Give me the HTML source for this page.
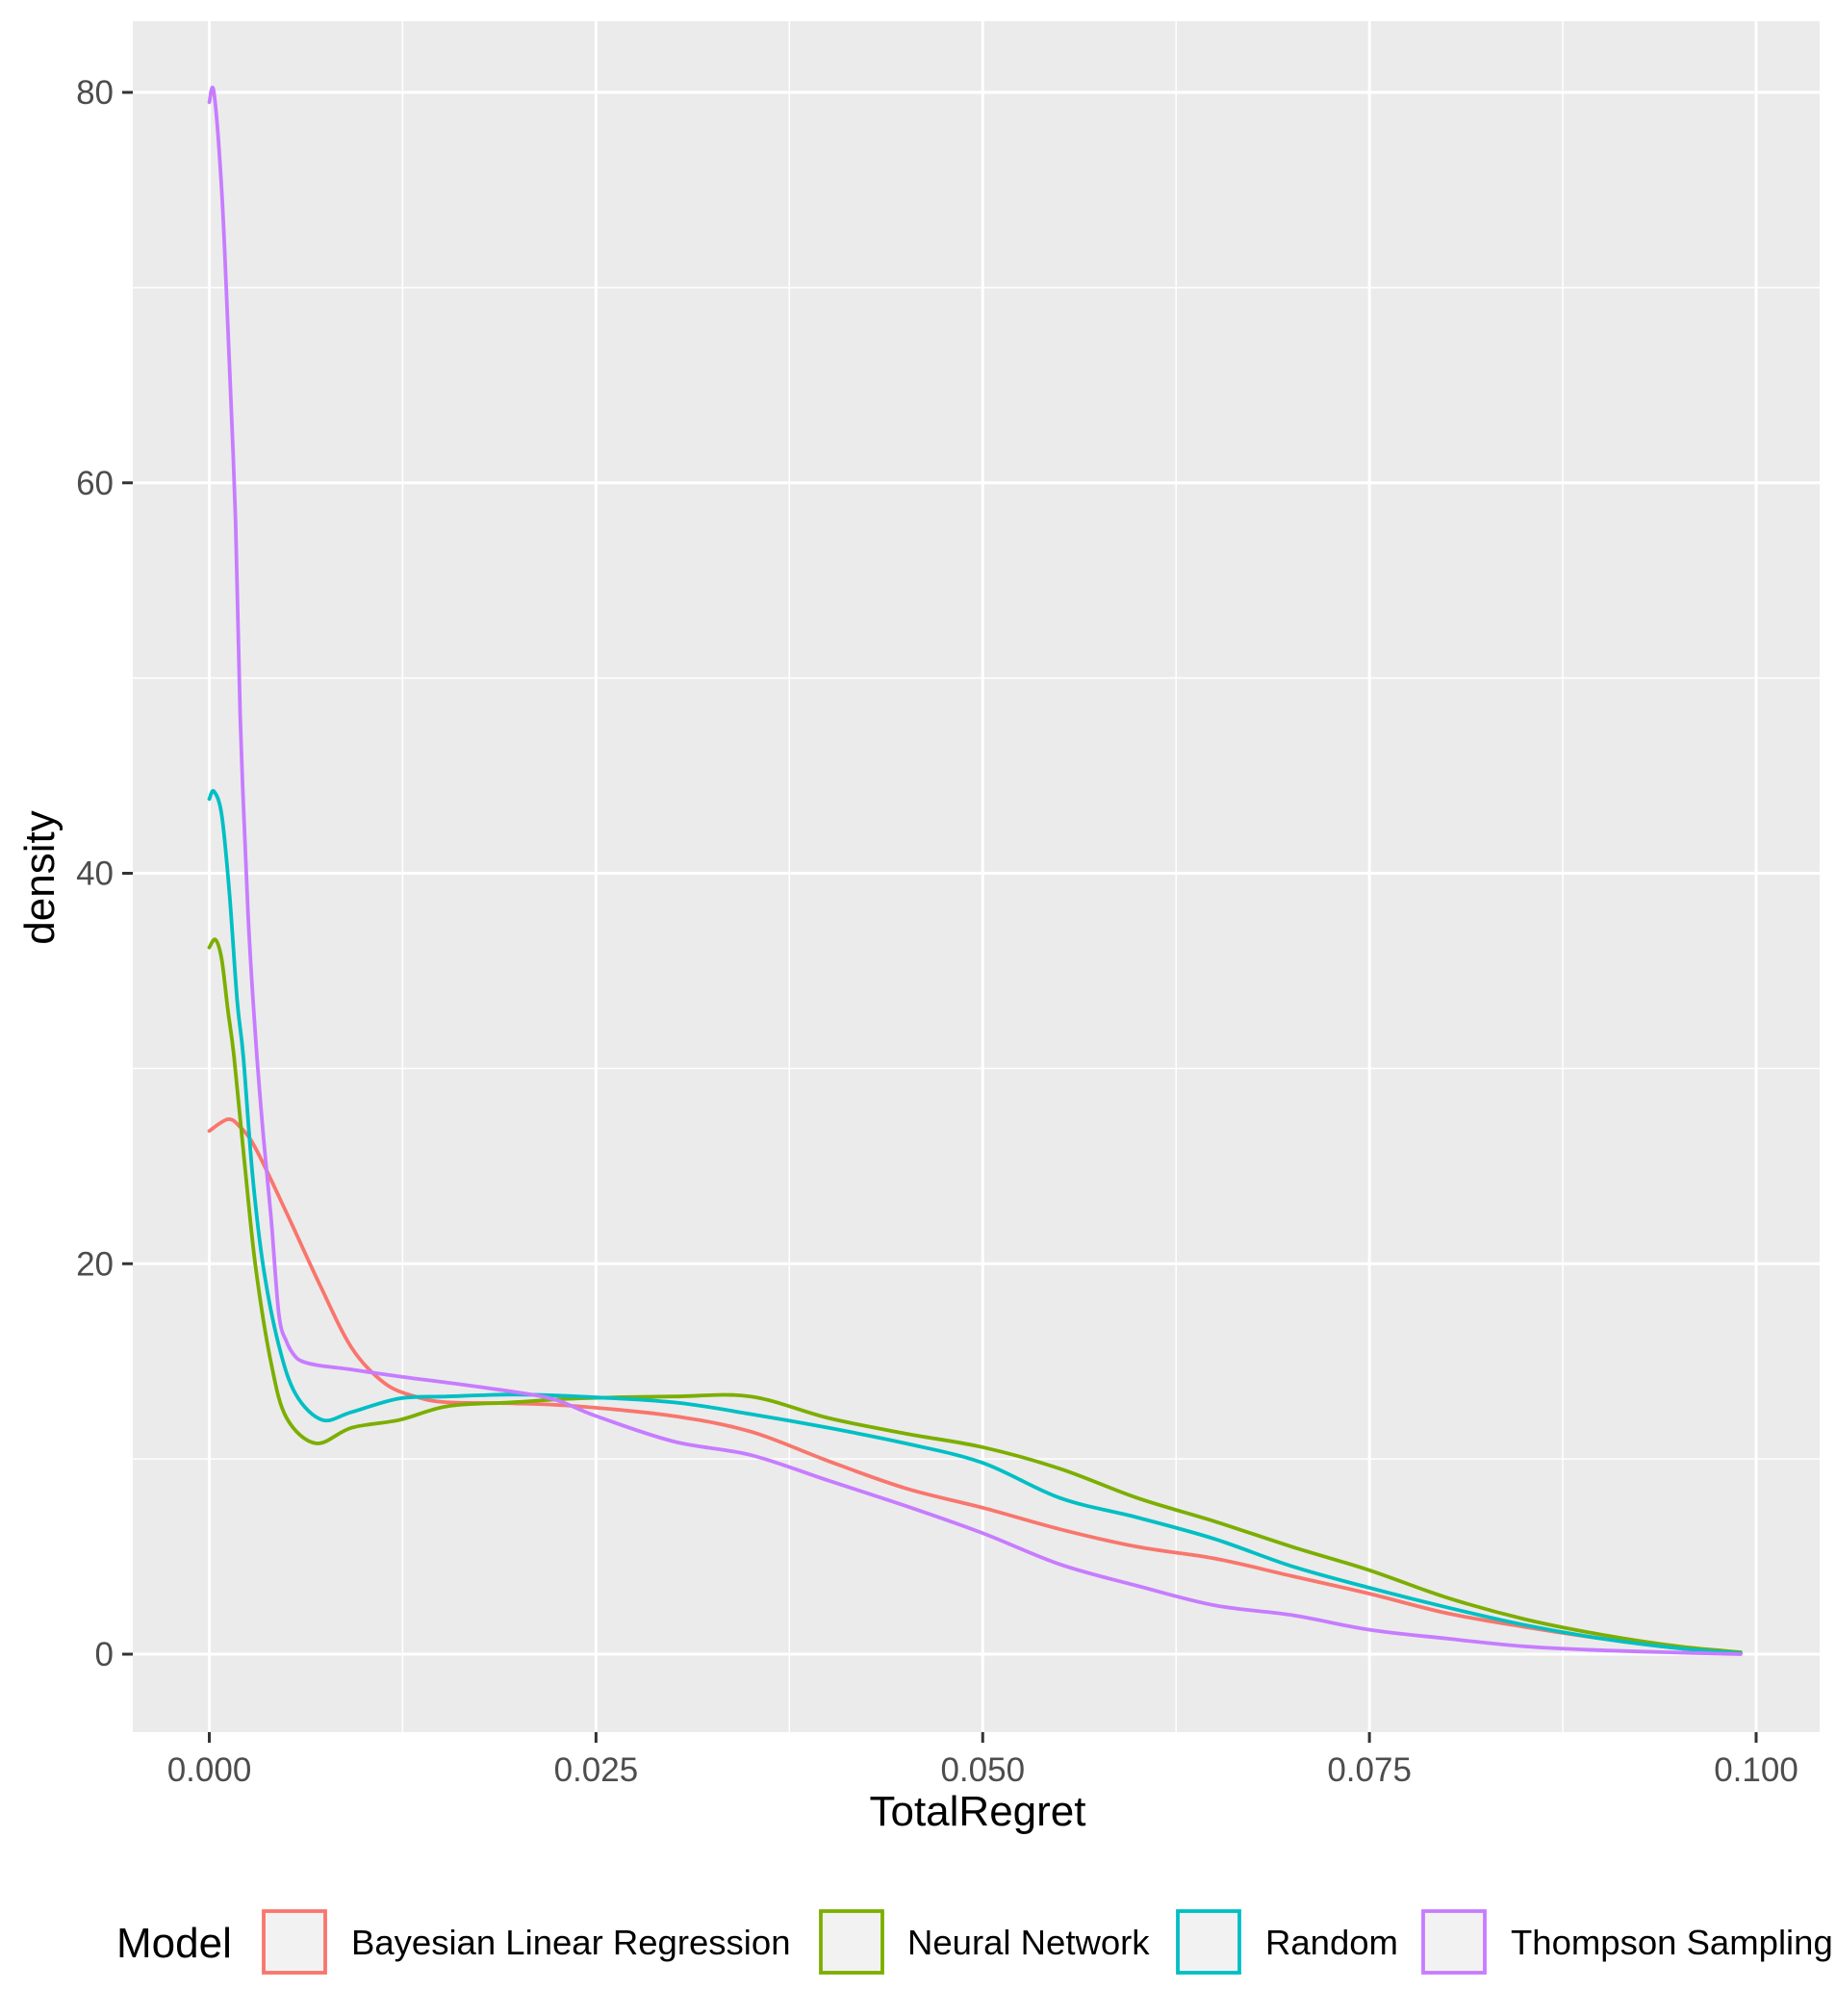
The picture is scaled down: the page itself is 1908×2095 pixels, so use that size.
<!DOCTYPE html>
<html><head><meta charset="utf-8"><style>
html,body{margin:0;padding:0;background:#fff;}
svg{display:block;font-family:"Liberation Sans",Arial,sans-serif;}
</style></head><body>
<svg id="chart" width="1908" height="2095" viewBox="0 0 1908 2095" xmlns="http://www.w3.org/2000/svg">
<rect x="0" y="0" width="1908" height="2095" fill="#fff"/>
<rect x="138" y="22" width="1753" height="1778" fill="#EBEBEB"/>
<g id="grid"></g>
<g id="series"></g>
<g id="axes"></g>
<text x="1016" y="1897" font-size="44" text-anchor="middle" fill="#000">TotalRegret</text>
<text x="0" y="0" font-size="44" text-anchor="middle" fill="#000" transform="translate(56,912) rotate(-90)">density</text>
<g id="legend">
<text x="121" y="2034" font-size="44" fill="#000">Model</text>
</g>
</svg>
<script>
const seriesNames = ["Bayesian Linear Regression","Neural Network","Random","Thompson Sampling"];
const seriesColors = ["#F8766D","#7CAE00","#00BFC4","#C77CFF"];
const bayesianX = [0,0.0012,0.002,0.003,0.005,0.0071,0.0092,0.0113,0.0133,0.0154,0.0196,0.0238,0.03,0.035,0.04,0.045,0.05,0.055,0.06,0.065,0.07,0.075,0.08,0.085,0.09,0.095,0.099];
const bayesianY = [26.8,27.4,27.0,25.9,22.6,19.0,15.7,13.9,13.2,12.9,12.85,12.7,12.2,11.4,9.9,8.5,7.5,6.4,5.5,4.9,4.0,3.1,2.1,1.4,0.8,0.3,0.05];
const neuralX = [0,0.0004,0.0008,0.0012,0.0016,0.0023,0.003,0.004,0.005,0.0069,0.0092,0.0123,0.0154,0.0196,0.0238,0.03,0.035,0.04,0.045,0.05,0.055,0.06,0.065,0.07,0.075,0.08,0.085,0.09,0.095,0.099];
const neuralY = [36.2,36.6,35.6,33.0,30.6,25.0,19.8,14.9,12.1,10.8,11.6,12.0,12.7,12.9,13.1,13.2,13.2,12.1,11.3,10.6,9.5,8.0,6.8,5.5,4.3,2.9,1.8,1.0,0.4,0.1];
const randomX = [0,0.0003,0.0008,0.0013,0.0018,0.0022,0.0028,0.0035,0.0045,0.0056,0.0073,0.0092,0.0123,0.0154,0.0196,0.0238,0.03,0.035,0.04,0.045,0.05,0.055,0.06,0.065,0.07,0.075,0.08,0.085,0.09,0.095,0.099];
const randomY = [43.8,44.2,43.0,39.0,33.5,30.6,24.5,19.8,15.8,13.3,12.0,12.4,13.1,13.2,13.3,13.2,12.9,12.3,11.6,10.8,9.8,8.0,7.0,5.9,4.5,3.4,2.4,1.5,0.8,0.3,0.05];
const thompsonX = [0,0.0003,0.0008,0.0012,0.0017,0.002,0.0025,0.003,0.0035,0.004,0.0045,0.005,0.0055,0.006,0.007,0.009,0.0125,0.015,0.02,0.0225,0.025,0.03,0.035,0.04,0.045,0.05,0.055,0.06,0.065,0.07,0.075,0.08,0.085,0.09,0.095,0.099];
const thompsonY = [79.5,80.0,75.0,68.0,58.0,48.0,38.0,31.5,26.5,22.3,17.4,16.0,15.3,15.0,14.8,14.6,14.2,13.95,13.4,13.0,12.2,10.9,10.2,8.9,7.6,6.2,4.6,3.5,2.5,2.0,1.25,0.8,0.4,0.2,0.08,0];
const allX = [bayesianX, neuralX, randomX, thompsonX];
const allY = [bayesianY, neuralY, randomY, thompsonY];
const xTicks = [0,0.025,0.05,0.075,0.1];
const xTickLabels = ["0.000","0.025","0.050","0.075","0.100"];
const yTicks = [0,20,40,60,80];
const yTickLabels = ["0","20","40","60","80"];

const NS = "http://www.w3.org/2000/svg";
const PL = 138, PR = 1891, PT = 22, PB = 1800;
const X0 = 217.5, X1 = 1825;
const Y0 = 1719, Y80 = 96;
function sx(v){ return X0 + v/0.1*(X1-X0); }
function sy(v){ return Y0 + v/80*(Y80-Y0); }
function mk(tag, attrs, parent){ const e = document.createElementNS(NS, tag); for (const k in attrs) e.setAttribute(k, attrs[k]); parent.appendChild(e); return e; }

const grid = document.getElementById('grid');
for (let i=0;i<yTicks.length-1;i++){
  const m = (yTicks[i]+yTicks[i+1])/2;
  const l = mk('line',{x1:PL,x2:PR,y1:sy(m),y2:sy(m),stroke:'#fff','stroke-width':1.5},grid);
  
  
}
for (let i=0;i<xTicks.length-1;i++){
  const m = (xTicks[i]+xTicks[i+1])/2;
  const l = mk('line',{x1:sx(m),x2:sx(m),y1:PT,y2:PB,stroke:'#fff','stroke-width':1.5},grid);
  
  
}
const axes = document.getElementById('axes');
yTicks.forEach((t,i)=>{
  const l = mk('line',{x1:PL,x2:PR,y1:sy(t),y2:sy(t),stroke:'#fff','stroke-width':3},grid);
  
  
  const tk = mk('line',{x1:PL-11,x2:PL,y1:sy(t),y2:sy(t),stroke:'#333','stroke-width':3},axes);
  
  
  const tx = mk('text',{x:PL-20,y:sy(t)+12,'font-size':35,'text-anchor':'end',fill:'#4D4D4D'},axes);
  tx.textContent = yTickLabels[i];
  
  
});
xTicks.forEach((t,i)=>{
  const l = mk('line',{x1:sx(t),x2:sx(t),y1:PT,y2:PB,stroke:'#fff','stroke-width':3},grid);
  
  
  const tk = mk('line',{x1:sx(t),x2:sx(t),y1:PB,y2:PB+11,stroke:'#333','stroke-width':3},axes);
  
  
  const tx = mk('text',{x:sx(t),y:1851,'font-size':35,'text-anchor':'middle',fill:'#4D4D4D'},axes);
  tx.textContent = xTickLabels[i];
  
  
});

const sg = document.getElementById('series');
allY.forEach((vals,si)=>{
  const xv = allX[si];
  const pts = xv.map((x,i)=>[sx(x),sy(vals[i])]);
  let d = 'M'+pts[0][0]+','+pts[0][1];
  for (let i=0;i<pts.length-1;i++){
    const p0 = pts[Math.max(0,i-1)], p1 = pts[i], p2 = pts[i+1], p3 = pts[Math.min(pts.length-1,i+2)];
    const c1x = p1[0]+(p2[0]-p0[0])/6, c1y = p1[1]+(p2[1]-p0[1])/6;
    const c2x = p2[0]-(p3[0]-p1[0])/6, c2y = p2[1]-(p3[1]-p1[1])/6;
    d += ' C'+c1x+','+c1y+' '+c2x+','+c2y+' '+p2[0]+','+p2[1];
  }
  const p = mk('path',{d:d,fill:'none',stroke:seriesColors[si],'stroke-width':3.8,'stroke-linejoin':'round','stroke-linecap':'round'},sg);
  
  
});

const lg = document.getElementById('legend');
const keyX = [274,853,1224,1479];
const txtX = [365,943,1315,1570];
seriesNames.forEach((n,i)=>{
  const r = mk('rect',{x:keyX[i],y:1986,width:64,height:64,fill:'#F2F2F2',stroke:seriesColors[i],'stroke-width':3.8},lg);
  
  
  const t = mk('text',{x:txtX[i],y:2031,'font-size':36.5,fill:'#000'},lg);
  t.textContent = n;
  
  
});
</script>
</body></html>
